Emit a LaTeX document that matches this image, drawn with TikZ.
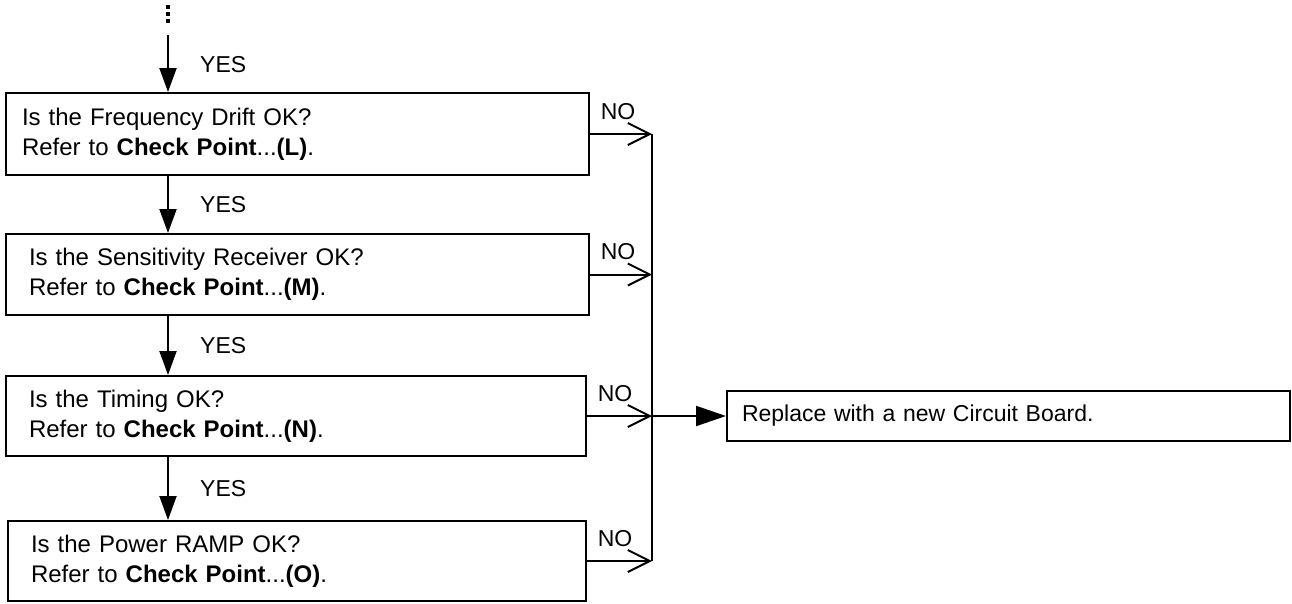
\documentclass[tikz,border=0pt]{standalone}
\usepackage{fontspec}
\setmainfont{Liberation Sans}
\usetikzlibrary{arrows.meta}
\begin{document}
\begin{tikzpicture}[x=1pt,y=-1pt,
  box/.style={draw, line width=2pt, rectangle, align=left, inner ysep=0pt,
    font=\fontsize{24}{30}\selectfont, anchor=center},
  ln/.style={line width=2pt},
  downarr/.style={ln, -{Triangle[length=24pt,width=17pt]}},
  noarr/.style={ln, -{Straight Barb[length=22pt,width=22pt]}},
  fillarr/.style={ln, -{Triangle[length=30pt,width=20pt]}},
  lbl/.style={font=\fontsize{23}{28}\selectfont, inner sep=0pt},
  dotmark/.style={fill, inner sep=0pt, minimum width=3.5pt, minimum height=4pt}
]
\useasboundingbox (0,0) rectangle (1292,603);

% boxes
\node[box, text width=551pt, inner xsep=16pt, minimum height=82pt] (b1) at (297.5,134)
  {Is the Frequency Drift OK?\\Refer to \textbf{Check Point}...\textbf{(L)}.};
\node[box, text width=537pt, inner xsep=23pt, minimum height=81pt] (b2) at (297.5,274.5)
  {Is the Sensitivity Receiver OK?\\Refer to \textbf{Check Point}...\textbf{(M)}.};
\node[box, text width=534pt, inner xsep=23pt, minimum height=80pt] (b3) at (296,416)
  {Is the Timing OK?\\Refer to \textbf{Check Point}...\textbf{(N)}.};
\node[box, text width=532pt, inner xsep=23pt, minimum height=80pt] (b4) at (297,561)
  {Is the Power RAMP OK?\\Refer to \textbf{Check Point}...\textbf{(O)}.};
\node[box, text width=533pt, inner xsep=15pt, minimum height=50pt,
  font=\fontsize{23}{28}\selectfont] (rep) at (1008.5,416)
  {Replace with a new Circuit Board.};

% top dots
\node[dotmark] (d1) at (168,7) {};
\node[dotmark] (d2) at (168,14) {};
\node[dotmark] (d3) at (168,21) {};
\coordinate (top) at (168,35);
\coordinate (vx) at (652,0);

% YES arrows
\draw[downarr] (top) -- (top |- b1.north);
\draw[downarr] (b1.south -| top) -- (b2.north -| top);
\draw[downarr] (b2.south -| top) -- (b3.north -| top);
\draw[downarr] (b3.south -| top) -- (b4.north -| top);

\node[lbl, anchor=west] (y1) at (200,65) {YES};
\node[lbl, anchor=west] (y2) at (200,204.5) {YES};
\node[lbl, anchor=west] (y3) at (200,345.5) {YES};
\node[lbl, anchor=west] (y4) at (200,488.5) {YES};

% NO branches
\draw[ln] (b1.east -| vx) -- (b4.east -| vx);
\draw[noarr] (b1.east) -- (b1.east -| vx);
\draw[noarr] (b2.east) -- (b2.east -| vx);
\draw[noarr] (b3.east) -- (b3.east -| vx);
\draw[noarr] (b4.east) -- (b4.east -| vx);
\draw[fillarr] (b3.east -| vx) -- (rep.west);

\node[lbl] (n1) at ([shift={(28,-22.5)}]b1.east) {NO};
\node[lbl] (n2) at ([shift={(28,-22.5)}]b2.east) {NO};
\node[lbl] (n3) at ([shift={(28,-22.5)}]b3.east) {NO};
\node[lbl] (n4) at ([shift={(28,-22.5)}]b4.east) {NO};
\end{tikzpicture}
\end{document}
